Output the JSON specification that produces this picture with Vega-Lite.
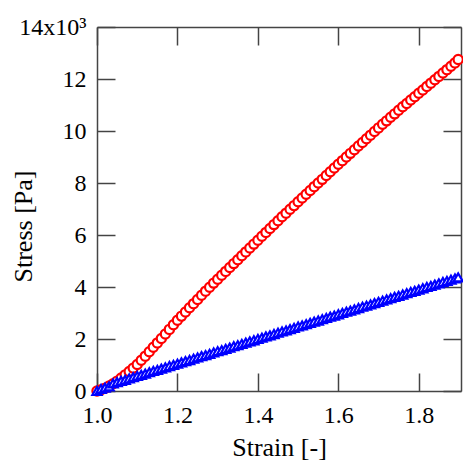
{
"$schema": "https://vega.github.io/schema/vega-lite/v6.json",
"width": 364, "height": 364,
"autosize": {"type": "none"},
"padding": {"left": 97, "top": 27, "right": 2, "bottom": 70},
"config": {"font": "Liberation Serif, DejaVu Serif, serif", "view": {"stroke": null},
  "axis": {"grid": false, "domainColor": "#444", "domainWidth": 1.5, "tickColor": "#444", "tickWidth": 1.5, "labelFont": "Liberation Serif, DejaVu Serif, serif", "labelFontSize": 24, "labelColor": "#000", "labelFlush": false, "titleFont": "Liberation Serif, DejaVu Serif, serif", "titleFontSize": 26, "titleFontWeight": "normal", "titleColor": "#000"}},
"datasets": {"d": [
{"series":"A","strain":1.00,"stress":0.00},{"series":"A","strain":1.01,"stress":0.05},{"series":"A","strain":1.02,"stress":0.11},{"series":"A","strain":1.03,"stress":0.19},{"series":"A","strain":1.04,"stress":0.28},{"series":"A","strain":1.05,"stress":0.38},{"series":"A","strain":1.06,"stress":0.50},{"series":"A","strain":1.07,"stress":0.62},{"series":"A","strain":1.08,"stress":0.75},{"series":"A","strain":1.09,"stress":0.88},
{"series":"A","strain":1.10,"stress":1.02},{"series":"A","strain":1.11,"stress":1.18},{"series":"A","strain":1.12,"stress":1.34},{"series":"A","strain":1.13,"stress":1.51},{"series":"A","strain":1.14,"stress":1.68},{"series":"A","strain":1.15,"stress":1.85},{"series":"A","strain":1.16,"stress":2.02},{"series":"A","strain":1.17,"stress":2.19},{"series":"A","strain":1.18,"stress":2.37},{"series":"A","strain":1.19,"stress":2.55},
{"series":"A","strain":1.20,"stress":2.72},{"series":"A","strain":1.21,"stress":2.88},{"series":"A","strain":1.22,"stress":3.04},{"series":"A","strain":1.23,"stress":3.20},{"series":"A","strain":1.24,"stress":3.36},{"series":"A","strain":1.25,"stress":3.52},{"series":"A","strain":1.26,"stress":3.68},{"series":"A","strain":1.27,"stress":3.84},{"series":"A","strain":1.28,"stress":3.99},{"series":"A","strain":1.29,"stress":4.15},
{"series":"A","strain":1.30,"stress":4.30},{"series":"A","strain":1.31,"stress":4.45},{"series":"A","strain":1.32,"stress":4.60},{"series":"A","strain":1.33,"stress":4.75},{"series":"A","strain":1.34,"stress":4.90},{"series":"A","strain":1.35,"stress":5.05},{"series":"A","strain":1.36,"stress":5.20},{"series":"A","strain":1.37,"stress":5.35},{"series":"A","strain":1.38,"stress":5.50},{"series":"A","strain":1.39,"stress":5.65},
{"series":"A","strain":1.40,"stress":5.80},{"series":"A","strain":1.41,"stress":5.95},{"series":"A","strain":1.42,"stress":6.10},{"series":"A","strain":1.43,"stress":6.25},{"series":"A","strain":1.44,"stress":6.40},{"series":"A","strain":1.45,"stress":6.55},{"series":"A","strain":1.46,"stress":6.70},{"series":"A","strain":1.47,"stress":6.84},{"series":"A","strain":1.48,"stress":6.99},{"series":"A","strain":1.49,"stress":7.13},
{"series":"A","strain":1.50,"stress":7.28},{"series":"A","strain":1.51,"stress":7.42},{"series":"A","strain":1.52,"stress":7.57},{"series":"A","strain":1.53,"stress":7.71},{"series":"A","strain":1.54,"stress":7.86},{"series":"A","strain":1.55,"stress":8.00},{"series":"A","strain":1.56,"stress":8.14},{"series":"A","strain":1.57,"stress":8.29},{"series":"A","strain":1.58,"stress":8.43},{"series":"A","strain":1.59,"stress":8.58},
{"series":"A","strain":1.60,"stress":8.72},{"series":"A","strain":1.61,"stress":8.86},{"series":"A","strain":1.62,"stress":9.00},{"series":"A","strain":1.63,"stress":9.14},{"series":"A","strain":1.64,"stress":9.28},{"series":"A","strain":1.65,"stress":9.42},{"series":"A","strain":1.66,"stress":9.56},{"series":"A","strain":1.67,"stress":9.70},{"series":"A","strain":1.68,"stress":9.84},{"series":"A","strain":1.69,"stress":9.98},
{"series":"A","strain":1.70,"stress":10.12},{"series":"A","strain":1.71,"stress":10.26},{"series":"A","strain":1.72,"stress":10.39},{"series":"A","strain":1.73,"stress":10.53},{"series":"A","strain":1.74,"stress":10.66},{"series":"A","strain":1.75,"stress":10.80},{"series":"A","strain":1.76,"stress":10.93},{"series":"A","strain":1.77,"stress":11.06},{"series":"A","strain":1.78,"stress":11.19},{"series":"A","strain":1.79,"stress":11.32},
{"series":"A","strain":1.80,"stress":11.45},{"series":"A","strain":1.81,"stress":11.58},{"series":"A","strain":1.82,"stress":11.71},{"series":"A","strain":1.83,"stress":11.84},{"series":"A","strain":1.84,"stress":11.97},{"series":"A","strain":1.85,"stress":12.10},{"series":"A","strain":1.86,"stress":12.23},{"series":"A","strain":1.87,"stress":12.36},{"series":"A","strain":1.88,"stress":12.49},{"series":"A","strain":1.89,"stress":12.62},{"series":"A","strain":1.898,"stress":12.75},
{"series":"B","strain":1.00,"stress":0.00},{"series":"B","strain":1.01,"stress":0.08},{"series":"B","strain":1.02,"stress":0.13},{"series":"B","strain":1.03,"stress":0.18},{"series":"B","strain":1.04,"stress":0.29},{"series":"B","strain":1.05,"stress":0.34},{"series":"B","strain":1.06,"stress":0.39},{"series":"B","strain":1.07,"stress":0.43},{"series":"B","strain":1.08,"stress":0.48},{"series":"B","strain":1.09,"stress":0.53},
{"series":"B","strain":1.10,"stress":0.58},{"series":"B","strain":1.11,"stress":0.62},{"series":"B","strain":1.12,"stress":0.67},{"series":"B","strain":1.13,"stress":0.72},{"series":"B","strain":1.14,"stress":0.77},{"series":"B","strain":1.15,"stress":0.81},{"series":"B","strain":1.16,"stress":0.86},{"series":"B","strain":1.17,"stress":0.91},{"series":"B","strain":1.18,"stress":0.96},{"series":"B","strain":1.19,"stress":1.00},
{"series":"B","strain":1.20,"stress":1.05},{"series":"B","strain":1.21,"stress":1.10},{"series":"B","strain":1.22,"stress":1.15},{"series":"B","strain":1.23,"stress":1.19},{"series":"B","strain":1.24,"stress":1.24},{"series":"B","strain":1.25,"stress":1.29},{"series":"B","strain":1.26,"stress":1.34},{"series":"B","strain":1.27,"stress":1.38},{"series":"B","strain":1.28,"stress":1.43},{"series":"B","strain":1.29,"stress":1.48},
{"series":"B","strain":1.30,"stress":1.53},{"series":"B","strain":1.31,"stress":1.57},{"series":"B","strain":1.32,"stress":1.62},{"series":"B","strain":1.33,"stress":1.67},{"series":"B","strain":1.34,"stress":1.72},{"series":"B","strain":1.35,"stress":1.76},{"series":"B","strain":1.36,"stress":1.81},{"series":"B","strain":1.37,"stress":1.86},{"series":"B","strain":1.38,"stress":1.91},{"series":"B","strain":1.39,"stress":1.95},
{"series":"B","strain":1.40,"stress":2.00},{"series":"B","strain":1.41,"stress":2.05},{"series":"B","strain":1.42,"stress":2.10},{"series":"B","strain":1.43,"stress":2.14},{"series":"B","strain":1.44,"stress":2.19},{"series":"B","strain":1.45,"stress":2.24},{"series":"B","strain":1.46,"stress":2.29},{"series":"B","strain":1.47,"stress":2.33},{"series":"B","strain":1.48,"stress":2.38},{"series":"B","strain":1.49,"stress":2.43},
{"series":"B","strain":1.50,"stress":2.48},{"series":"B","strain":1.51,"stress":2.52},{"series":"B","strain":1.52,"stress":2.57},{"series":"B","strain":1.53,"stress":2.62},{"series":"B","strain":1.54,"stress":2.67},{"series":"B","strain":1.55,"stress":2.71},{"series":"B","strain":1.56,"stress":2.76},{"series":"B","strain":1.57,"stress":2.81},{"series":"B","strain":1.58,"stress":2.86},{"series":"B","strain":1.59,"stress":2.90},
{"series":"B","strain":1.60,"stress":2.95},{"series":"B","strain":1.61,"stress":3.00},{"series":"B","strain":1.62,"stress":3.05},{"series":"B","strain":1.63,"stress":3.09},{"series":"B","strain":1.64,"stress":3.14},{"series":"B","strain":1.65,"stress":3.19},{"series":"B","strain":1.66,"stress":3.24},{"series":"B","strain":1.67,"stress":3.28},{"series":"B","strain":1.68,"stress":3.33},{"series":"B","strain":1.69,"stress":3.38},
{"series":"B","strain":1.70,"stress":3.43},{"series":"B","strain":1.71,"stress":3.47},{"series":"B","strain":1.72,"stress":3.52},{"series":"B","strain":1.73,"stress":3.57},{"series":"B","strain":1.74,"stress":3.62},{"series":"B","strain":1.75,"stress":3.66},{"series":"B","strain":1.76,"stress":3.71},{"series":"B","strain":1.77,"stress":3.76},{"series":"B","strain":1.78,"stress":3.81},{"series":"B","strain":1.79,"stress":3.85},
{"series":"B","strain":1.80,"stress":3.90},{"series":"B","strain":1.81,"stress":3.95},{"series":"B","strain":1.82,"stress":4.00},{"series":"B","strain":1.83,"stress":4.04},{"series":"B","strain":1.84,"stress":4.09},{"series":"B","strain":1.85,"stress":4.14},{"series":"B","strain":1.86,"stress":4.19},{"series":"B","strain":1.87,"stress":4.23},{"series":"B","strain":1.88,"stress":4.28},{"series":"B","strain":1.89,"stress":4.33},{"series":"B","strain":1.898,"stress":4.37}
]},
"data": {"name": "d"},
"layer": [
 {"mark": {"type": "point", "fill": "white", "filled": false, "size": 85, "strokeWidth": 2.2, "opacity": 1},
  "encoding": {
   "x": {"field": "strain", "type": "quantitative", "scale": {"domain": [1.0, 1.905], "nice": false, "zero": false},
     "axis": {"orient": "bottom", "values": [1.0, 1.2, 1.4, 1.6, 1.8], "format": ".1f", "tickSize": -18, "labelPadding": 30, "title": "Strain [-]", "titlePadding": 7}},
   "y": {"field": "stress", "type": "quantitative", "scale": {"domain": [0, 14], "nice": false},
     "axis": {"orient": "left", "values": [0, 2, 4, 6, 8, 10, 12, 14], "labelExpr": "datum.value == 14 ? '14x10³' : datum.value", "tickSize": -18, "labelPadding": 29, "title": "Stress [Pa]", "titleX": -61, "titleY": 199}},
   "stroke": {"field": "series", "type": "nominal", "scale": {"domain": ["A", "B"], "range": ["#ff0000", "#0000ff"]}, "legend": null},
   "shape": {"field": "series", "type": "nominal", "scale": {"domain": ["A", "B"], "range": ["circle", "triangle-up"]}, "legend": null}
  }},
 {"mark": {"type": "point", "opacity": 0},
  "encoding": {
   "x": {"field": "strain", "type": "quantitative", "axis": {"orient": "top", "values": [1.0, 1.2, 1.4, 1.6, 1.8], "labels": false, "tickSize": -18, "title": null}},
   "y": {"field": "stress", "type": "quantitative", "axis": {"orient": "right", "values": [0, 2, 4, 6, 8, 10, 12, 14], "labels": false, "tickSize": -18, "title": null}}
  }}
],
"resolve": {"axis": {"x": "independent", "y": "independent"}}
}
